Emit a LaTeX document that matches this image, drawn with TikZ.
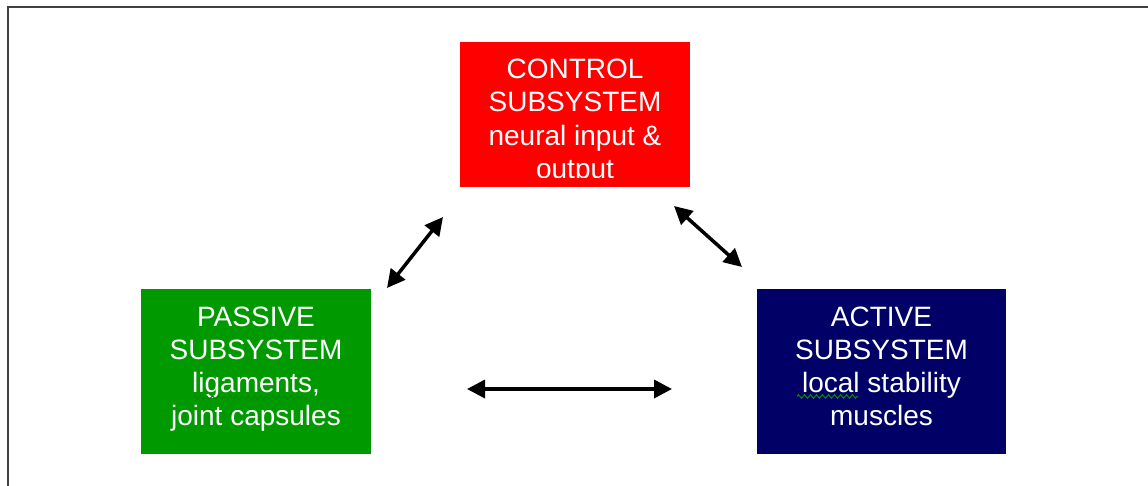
\documentclass[tikz,border=0pt]{standalone}
\usepackage{fontspec}
\setmainfont{Liberation Sans}
\usetikzlibrary{arrows.meta,decorations.pathmorphing}
\definecolor{ctrlred}{RGB}{255,0,0}
\definecolor{pasgreen}{RGB}{0,153,0}
\definecolor{actnavy}{RGB}{0,0,102}
\definecolor{spellgreen}{RGB}{0,140,0}
\begin{document}
\begin{tikzpicture}[x=1pt,y=-1pt,
  box/.style={draw=none, inner sep=0pt, outer sep=0pt},
  lbl/.style={text=white, font=\fontsize{28}{33}\selectfont, inner sep=0pt, anchor=base},
  link/.style={line width=3.5pt, {Triangle[length=18pt,width=18pt]}-{Triangle[length=18pt,width=18pt]}},
  squiggle/.style={draw=spellgreen, line width=1pt, decorate, decoration={zigzag, segment length=6pt, amplitude=1.8pt}}]
\useasboundingbox (0,0) rectangle (1148,485);
\draw[line width=2pt, draw=black!75] (7.5,6.5) rectangle (1170,510);

% boxes
\node[box, fill=ctrlred, minimum width=230pt, minimum height=145pt] (ctrl) at (575,114.5) {};
\node[box, fill=pasgreen, minimum width=230pt, minimum height=165pt] (pass) at (256,371.5) {};
\node[box, fill=actnavy, minimum width=249pt, minimum height=165pt] (act) at (881.5,371.5) {};

% control text (last line clipped)
\begin{scope}
  \clip (460,42) rectangle (690,177);
  \node[lbl] (ctrl1) at (575,78) {CONTROL};
  \node[lbl] (ctrl2) at (575,111) {SUBSYSTEM};
  \node[lbl] (ctrl3) at (575,145) {neural input \&};
  \node[lbl] (ctrl4) at (575,178) {output};
\end{scope}

% passive text
\node[lbl] (pass1) at (256,326) {PASSIVE};
\node[lbl] (pass2) at (256,359) {SUBSYSTEM};
\node[lbl] (pass3) at (256,392) {ligaments,};
\node[lbl] (pass4) at (256,425) {joint capsules};

% active text
\node[lbl] (act1) at (881.5,326) {ACTIVE};
\node[lbl] (act2) at (881.5,359) {SUBSYSTEM};
\node[lbl] (act3) at (881.5,392) {local stability};
\node[lbl] (act4) at (881.5,425) {muscles};

% spell-check squiggles
\coordinate (sq1a) at (193,397.5);
\coordinate (sq1b) at (310,397.5);
\coordinate (sq2a) at (797,396.5);
\coordinate (sq2b) at (858,396.5);
\draw[squiggle] (sq1a) -- (sq1b);
\draw[squiggle] (sq2a) -- (sq2b);

% connectors
\coordinate (pc1) at (387,288);
\coordinate (pc2) at (443,217);
\coordinate (ca1) at (674,206);
\coordinate (ca2) at (742,267);
\coordinate (pa1) at (467,389);
\coordinate (pa2) at (672,389);
\draw[link] (pc1) -- (pc2);
\draw[link] (ca1) -- (ca2);
\draw[link] (pa1) -- (pa2);
\end{tikzpicture}
\end{document}
